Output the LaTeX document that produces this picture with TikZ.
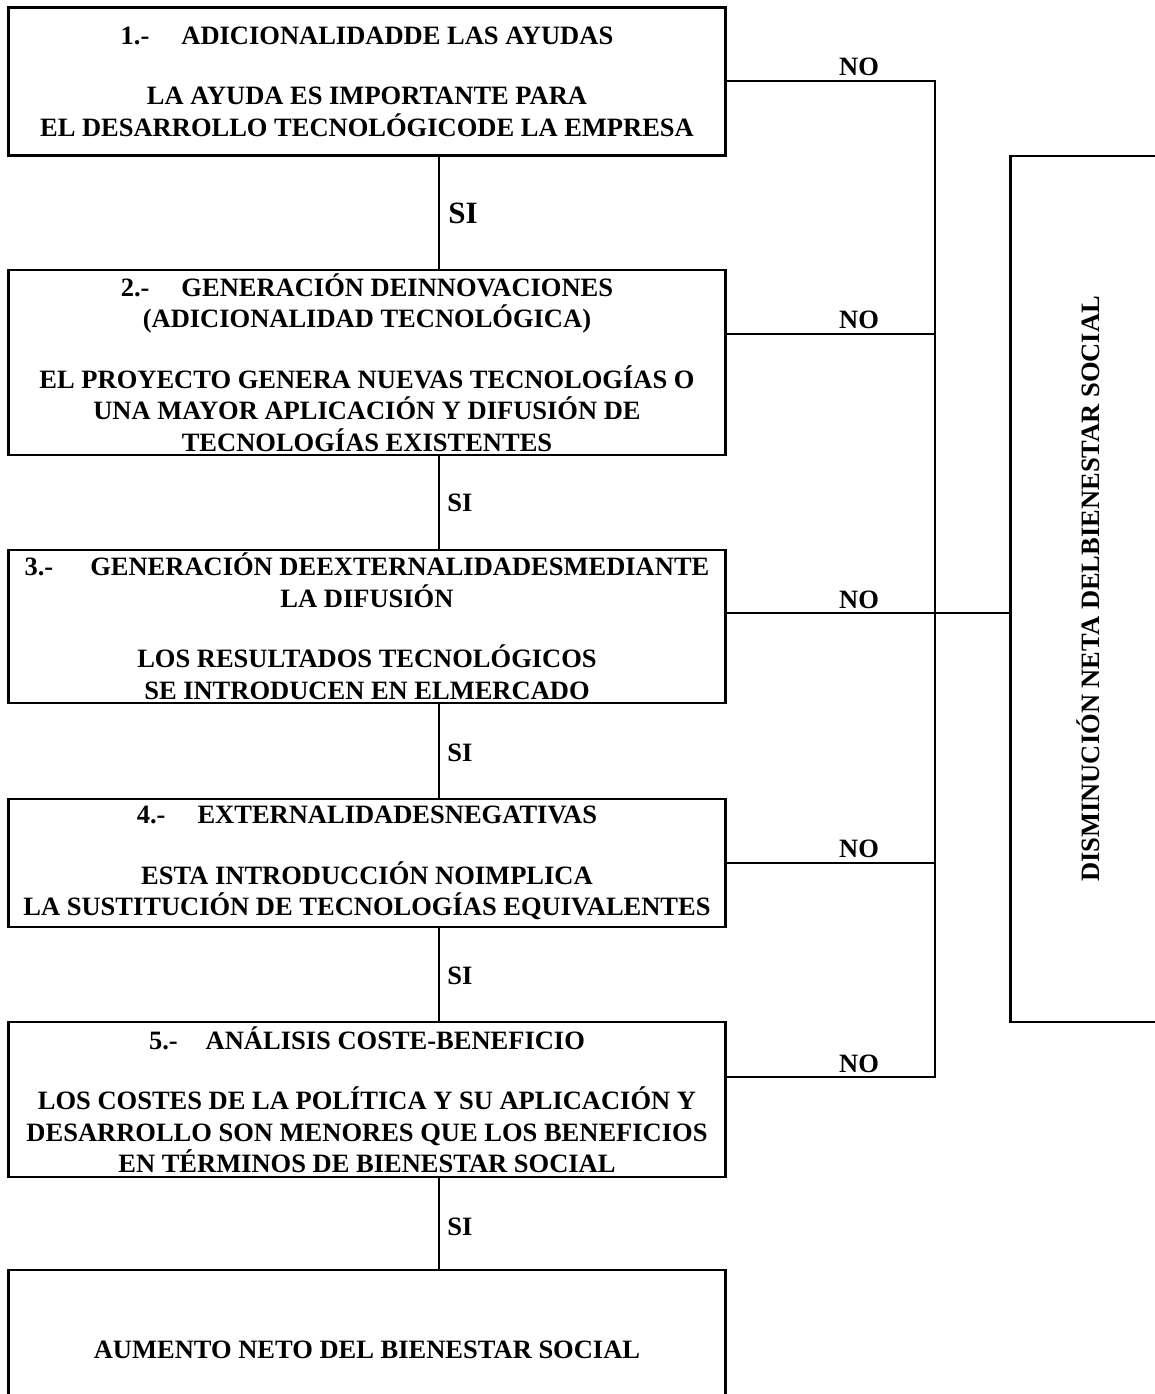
\documentclass[tikz,border=0pt]{standalone}
\usepackage{fontspec}
\usepackage{graphicx}
\setmainfont{Liberation Serif}
\begin{document}
\begin{tikzpicture}[x=1pt,y=-1pt,
  txt/.style={font=\bfseries\fontsize{26.5}{31.5}\selectfont},
  box/.style={txt, draw, line width=2.6pt, rectangle, inner sep=0pt, align=center, minimum width=717pt},
  noline/.style={line width=2pt},
  siline/.style={line width=1.5pt},
  lab/.style={txt, inner sep=0pt},
]
\useasboundingbox (0,0) rectangle (1155,1394);

% main boxes
\node[box, minimum height=148pt] (b1) at (367,81.5)
  {1.-\hspace{32pt}ADICIONALIDADDE LAS AYUDAS\\[29pt]
   LA AYUDA ES IMPORTANTE PARA\\
   EL DESARROLLO TECNOLÓGICODE LA EMPRESA};
\node[box, minimum height=185pt] (b2) at (367,362.5)
  {2.-\hspace{32pt}GENERACIÓN DEINNOVACIONES\\
   (ADICIONALIDAD TECNOLÓGICA)\\[29pt]
   EL PROYECTO GENERA NUEVAS TECNOLOGÍAS O\\
   UNA MAYOR APLICACIÓN Y DIFUSIÓN DE\\
   TECNOLOGÍAS EXISTENTES};
\node[box, minimum height=153pt] (b3) at (367,626.5)
  {3.-\hspace{37pt}GENERACIÓN DEEXTERNALIDADESMEDIANTE\\
   LA DIFUSIÓN\\[29pt]
   LOS RESULTADOS TECNOLÓGICOS\\
   SE INTRODUCEN EN ELMERCADO};
\node[box, minimum height=128pt] (b4) at (367,863)
  {4.-\hspace{32pt}EXTERNALIDADESNEGATIVAS\\[29pt]
   ESTA INTRODUCCIÓN NOIMPLICA\\
   LA SUSTITUCIÓN DE TECNOLOGÍAS EQUIVALENTES};
\node[box, minimum height=155pt] (b5) at (367,1099.5)
  {5.-\hspace{28pt}ANÁLISIS COSTE-BENEFICIO\\[29pt]
   LOS COSTES DE LA POLÍTICA Y SU APLICACIÓN Y\\
   DESARROLLO SON MENORES QUE LOS BENEFICIOS\\
   EN TÉRMINOS DE BIENESTAR SOCIAL};
\node[box, minimum height=160pt] (b6) at (367,1350)
  {AUMENTO NETO DEL BIENESTAR SOCIAL};

% right box
\node[box, minimum width=155.5pt, minimum height=866pt] (dis) at (1088.25,588.85)
  {\rotatebox{90}{DISMINUCIÓN NETA DELBIENESTAR SOCIAL}};

% SI connectors
\coordinate (sx) at (439,0);
\draw[siline] (b1.south -| sx) -- (b2.north -| sx);
\draw[siline] (b2.south -| sx) -- (b3.north -| sx);
\draw[siline] (b3.south -| sx) -- (b4.north -| sx);
\draw[siline] (b4.south -| sx) -- (b5.north -| sx);
\draw[siline] (b5.south -| sx) -- (b6.north -| sx);

\node[lab, font=\bfseries\fontsize{31}{34}\selectfont] (si1) at (463,213) {SI};
\node[lab] (si2) at (460,503) {SI};
\node[lab] (si3) at (460,753) {SI};
\node[lab] (si4) at (460,976) {SI};
\node[lab] (si5) at (460,1227) {SI};

% NO connectors
\coordinate (n1) at (935,80.7);
\coordinate (n2) at (935,333.6);
\coordinate (n3) at (935,613);
\coordinate (n4) at (935,862.7);
\coordinate (n5) at (935,1077);
\draw[noline] (b1.east |- n1) -- (n1) -- (n5) -- (b5.east |- n5);
\draw[noline] (b2.east |- n2) -- (n2);
\draw[noline] (b3.east |- n3) -- (n3 -| dis.west);
\draw[noline] (b4.east |- n4) -- (n4);

\node[lab, anchor=base] (no1) at (859,75.5) {NO};
\node[lab, anchor=base] (no2) at (859,328.5) {NO};
\node[lab, anchor=base] (no3) at (859,608) {NO};
\node[lab, anchor=base] (no4) at (859,857.5) {NO};
\node[lab, anchor=base] (no5) at (859,1072) {NO};
\end{tikzpicture}
\end{document}
